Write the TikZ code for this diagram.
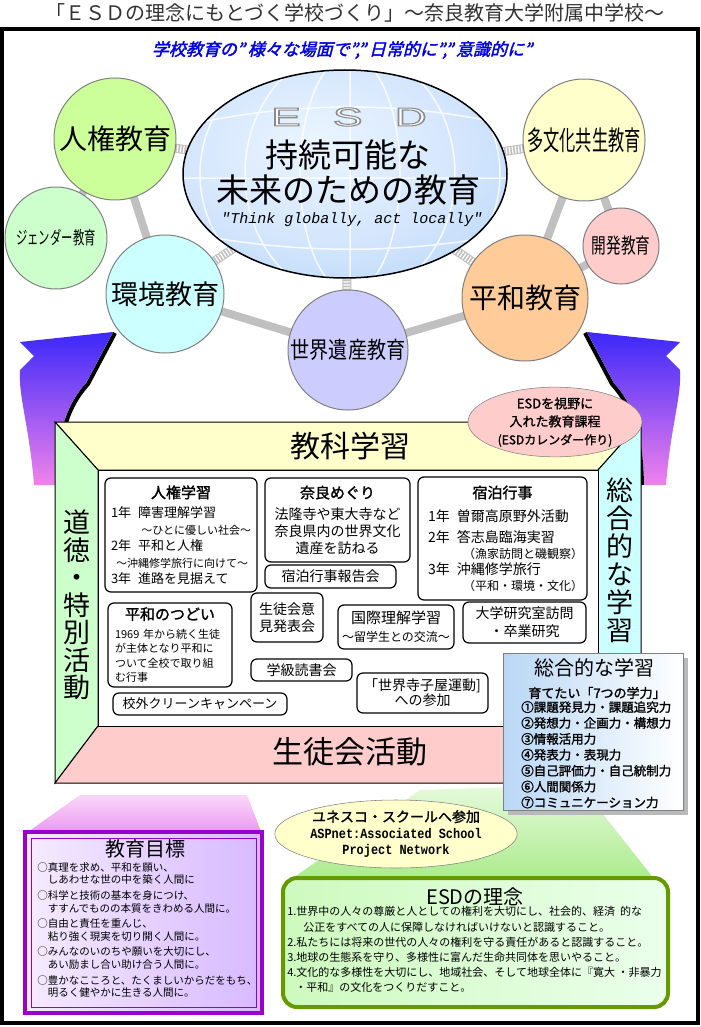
\documentclass[tikz,border=0pt]{standalone}
\usepackage{fontspec}
\usepackage{graphicx}
\setmainfont{Noto Sans CJK JP}
\newfontfamily\jpbold[FakeBold=1.5]{Noto Sans CJK JP}
\newfontfamily\jpslant[FakeSlant=0.25,FakeBold=2]{Noto Sans CJK JP}
\newfontfamily\monof{Liberation Mono}
\newfontfamily\esdfont[FakeBold=4]{Liberation Sans}
\usetikzlibrary{shapes.geometric,backgrounds}

\newlength\px
\setlength\px{0.75pt}
\newcommand\fs[2]{\fontsize{#1\px}{#2\px}\selectfont}
\newcommand\ctr[1]{\hskip0pt plus1fill{#1}\hskip0pt plus1fill\null}
\newcommand\rgt[1]{\hskip0pt plus1fill{#1}}
\newcommand\esdword{\scalebox{1.7}[1]{E\hspace{19\px}S\hspace{19\px}D}}

\definecolor{titleg}{RGB}{50,50,50}
\definecolor{headblue}{RGB}{0,0,230}
\definecolor{barg}{RGB}{192,192,192}
\definecolor{ballline}{RGB}{128,128,128}
\definecolor{cHR}{RGB}{204,255,153}
\definecolor{cGender}{RGB}{204,255,204}
\definecolor{cEnv}{RGB}{204,255,255}
\definecolor{cHeritage}{RGB}{204,204,255}
\definecolor{cMulti}{RGB}{255,255,204}
\definecolor{cDevel}{RGB}{255,204,204}
\definecolor{cPeace}{RGB}{255,204,153}
\definecolor{arrtop}{RGB}{60,40,250}
\definecolor{arrmid}{RGB}{150,70,240}
\definecolor{arrbot}{RGB}{240,130,235}
\definecolor{cTop}{RGB}{255,255,204}
\definecolor{cLeft}{RGB}{204,255,204}
\definecolor{cRight}{RGB}{204,255,255}
\definecolor{cBottom}{RGB}{255,204,204}
\definecolor{cCal}{RGB}{255,204,204}
\definecolor{moundtop}{RGB}{230,250,220}
\definecolor{moundbot}{RGB}{170,235,140}
\definecolor{rooftop}{RGB}{250,215,250}
\definecolor{roofbot}{RGB}{235,150,240}
\definecolor{mokuline}{RGB}{153,0,204}
\definecolor{mokuL}{RGB}{245,235,255}
\definecolor{mokuR}{RGB}{215,185,255}
\definecolor{rinenline}{RGB}{102,153,0}
\definecolor{rinenL}{RGB}{205,250,190}
\definecolor{rinenR}{RGB}{235,255,235}
\definecolor{cUnesco}{RGB}{255,255,204}
\definecolor{gkL}{RGB}{185,215,245}

\pgfdeclareradialshading{esdglobe}{\pgfpoint{-5bp}{8bp}}{rgb(0bp)=(0.92,0.96,1);rgb(22bp)=(0.83,0.9,0.99);rgb(40bp)=(0.7,0.83,0.97);rgb(48bp)=(0.56,0.74,0.95);rgb(60bp)=(0.56,0.74,0.95)}

\begin{document}
\begin{tikzpicture}[x=0.75pt,y=-0.75pt,
    ball/.style={circle,draw=ballline,line width=1\px,inner sep=0pt},
    bar/.style={draw=barg,line width=8\px},
    stub/.style={draw=barg,line width=9\px,postaction={draw=white,line width=7\px,dash pattern=on 0.9pt off 1.4pt}},
    box/.style={draw=black,line width=1.2\px,rounded corners=6\px,fill=white,inner sep=3\px,font=\fs{14}{17}},
    band/.style={draw=black,line width=1\px}]
  \useasboundingbox (0,0) rectangle (700,1027);
  \begin{scope}[on background layer]
    \fill[white] (0,0) rectangle (700,1027);
  \end{scope}

  \node[font=\fs{20}{20},text=titleg] (title) at (355,13) {「ＥＳＤの理念にもとづく学校づくり」～奈良教育大学附属中学校～};
  \draw[line width=4\px] (2,29) rectangle (698,1023);
  \node[font=\jpslant\fs{17}{17},text=headblue] (motto) at (342,50) {学校教育の”\,様々な場面で”,”\,日常的に”,”\,意識的に”};

  \foreach \s/\o in {1/0,-1/700}{
    \begin{scope}[shift={(\o,0)},xscale=\s]
      \shade[top color=arrtop,middle color=arrmid,bottom color=arrbot] (20,342) -- (113,332) -- (86,383) .. controls (66,405) and (57,432) .. (56,485) -- (34,485) .. controls (30,430) and (18,395) .. (20,370) -- (34,356) -- cycle;
      \draw[line width=4\px] (115,333) -- (88,384) .. controls (68,406) and (59,433) .. (58,485);
    \end{scope}}

  \node[ellipse,draw=black,line width=1.5\px,shade,shading=esdglobe,minimum width=324\px,minimum height=208\px] (esd) at (345,174) {};
  \begin{scope}
    \clip (esd.center) ellipse [x radius=161, y radius=103];
    \draw[white,line width=1.5\px,opacity=0.8] (350,60) -- (350,290)
      (350,174) ellipse [x radius=50, y radius=118]
      (350,174) ellipse [x radius=105, y radius=125]
      (350,174) ellipse [x radius=150, y radius=135]
      (175,128) .. controls (290,100) and (410,100) .. (520,128)
      (175,178) -- (520,178)
      (185,232) .. controls (290,255) and (410,255) .. (515,232);
  \end{scope}
  \node[font=\esdfont\fs{26}{26},text=gray!90] (esdmark) at (349,117) {\special{pdf:literal direct 1 g}\esdword};
  \node[font=\fs{33}{35},align=center] (esdtitle) at (348,172) {持続可能な\\未来のための教育};
  \node[font=\monof\itshape\fs{15}{15}] (esdmotto) at (352,220) {"Think globally, act locally"};

  \begin{scope}[every node/.style={ball}]
    \node[fill=cHR,minimum size=122\px,font=\fs{28}{28}] (hr) at (115,139) {人権教育};
    \node[fill=cGender,minimum size=102\px,font=\fs{18}{18}] (gender) at (56,238) {\scalebox{0.63}[1]{ジェンダー教育}};
    \node[fill=cEnv,minimum size=118\px,font=\fs{27}{27}] (env) at (165,294) {環境教育};
    \node[fill=cHeritage,minimum size=120\px,font=\fs{23}{23}] (heritage) at (348,350) {\scalebox{0.83}[1]{世界遺産教育}};
    \node[fill=cMulti,minimum size=122\px,font=\fs{27}{27}] (multi) at (584,140) {\scalebox{0.6}[1]{多文化共生教育}};
    \node[fill=cDevel,minimum size=76\px,font=\fs{21}{21}] (devel) at (621,246) {\scalebox{0.7}[1]{開発教育}};
    \node[fill=cPeace,minimum size=126\px,font=\fs{28}{28}] (peace) at (525,298) {平和教育};
  \end{scope}

  \begin{scope}[on background layer]
    \path[every edge/.style={bar}]
      (hr.center) edge (gender.center)
      (hr.center) edge (env.center)
      (env.center) edge (heritage.center)
      (heritage.center) edge (peace.center)
      (peace.center) edge (multi.center)
      (multi.center) edge (devel.center)
      (devel.center) edge (peace.center);
    \path[every edge/.style={stub}]
      (esd.center) edge (hr.center)
      (esd.center) edge (env.center)
      (esd.center) edge (heritage.center)
      (esd.center) edge (peace.center)
      (esd.center) edge (multi.center);
  \end{scope}

  \draw[band,fill=cTop] (55,422) -- (641,422) -- (598,470) -- (98,470) -- cycle;
  \draw[band,fill=cLeft] (55,422) -- (98,470) -- (98,726) -- (55,783) -- cycle;
  \draw[band,fill=cRight] (641,422) -- (641,783) -- (598,726) -- (598,470) -- cycle;
  \draw[band,fill=cBottom] (55,783) -- (98,726) -- (598,726) -- (641,783) -- cycle;
  \draw[band,fill=white] (98,470) rectangle (598,726);
  \node[font=\fs{30}{30}] (kyoka) at (350,446) {教科学習};
  \node[font=\fs{27}{27.5},align=center] (dotoku) at (77,605) {道\\徳\\・\\特\\別\\活\\動};
  \node[font=\fs{27}{28},align=center] (sogo) at (620,560) {総\\合\\的\\な\\学\\習};
  \node[font=\fs{31}{31}] (seito) at (350,752) {生徒会活動};

  \begin{scope}[every node/.style={box}]
    \node[minimum width=152\px,minimum height=114\px,text width=140\px,inner xsep=6\px,align=left,font=\fs{13}{16.5}] (jinken) at (181,535) {\ctr{\jpbold\fs{15}{17}人権学習}\\[3\px]1年\hspace{7\px}障害理解学習\\\rgt{\fs{11}{17}～ひとに優しい社会～}\\2年\hspace{7\px}平和と人権\\\hspace*{5\px}{\fs{11}{17}～沖縄修学旅行に向けて～}\\3年\hspace{7\px}進路を見据えて};
    \node[minimum width=145\px,minimum height=84\px,text width=137\px,align=center] (nara) at (337.5,520) {{\jpbold\fs{15}{17}奈良めぐり}\\[4\px]法隆寺や東大寺など\\奈良県内の世界文化\\遺産を訪ねる};
    \node[minimum width=131\px,minimum height=23\px] (hokoku) at (330.5,576.5) {宿泊行事報告会};
    \node[minimum width=169\px,minimum height=123\px,text width=157\px,inner xsep=6\px,align=left,font=\fs{14}{16}] (shukuhaku) at (502.5,538.5) {\ctr{\jpbold\fs{15}{16}宿泊行事}\\[7\px]\hspace*{4\px}1年\hspace{7\px}曽爾高原野外活動\\[5\px]\hspace*{4\px}2年\hspace{7\px}答志島臨海実習\\\hspace*{39\px}{\fs{12}{16}（漁家訪問と磯観察）}\\\hspace*{4\px}3年\hspace{7\px}沖縄修学旅行\\\hspace*{39\px}{\fs{12}{16}（平和・環境・文化）}};
    \node[minimum width=123\px,minimum height=41\px,align=center,font=\fs{14}{18}] (daigaku) at (524.5,622.5) {大学研究室訪問\\・卒業研究};
    \node[minimum width=116\px,minimum height=44\px,align=center] (kokusai) at (396,627) {{\fs{15}{15}国際理解学習}\\[1\px]{\fs{12}{14}～留学生との交流～}};
    \node[minimum width=72\px,minimum height=49\px,align=center] (iken) at (287,617.5) {生徒会意\\見発表会};
    \node[minimum width=124\px,minimum height=84\px,text width=110\px,inner xsep=7\px,align=left,font=\fs{11}{14.5}] (tsudoi) at (170,645) {\ctr{\jpbold\fs{15}{16}平和のつどい}\\[4\px]1969 年から続く生徒\\が主体となり平和に\\ついて全校で取り組\\む行事};
    \node[minimum width=101\px,minimum height=22\px] (dokusho) at (301.5,670) {学級読書会};
    \node[minimum width=131\px,minimum height=40\px,align=center,font=\fs{14}{15}] (terakoya) at (422.5,693) {「世界寺子屋運動]\\への参加};
    \node[minimum width=174\px,minimum height=22\px,font=\fs{13}{13}] (clean) at (200,704) {校外クリーンキャンペーン};
  \end{scope}

  \node[ellipse,draw=gray,fill=cCal,minimum width=174\px,minimum height=68\px,inner sep=0pt,align=center,font=\jpbold\fs{13}{18}] (esdcal) at (555,422) {ESDを視野に\\入れた教育課程\\{\fs{12}{18}(ESDカレンダー作り)}};

  \shade[top color=moundtop,bottom color=moundbot] (290,880) -- (420,790) -- (580,785) -- (655,880) -- cycle;
  \shade[top color=rooftop,bottom color=roofbot] (25,834) -- (80,795) -- (247,795) -- (262,834) -- cycle;

  \node[draw=mokuline,line width=4\px,left color=mokuL,right color=mokuR,minimum width=237\px,minimum height=181\px] (mokuhyo) at (143.5,922.5) {};
  \draw[mokuline,line width=1\px] (31,838) rectangle (256,1007);
  \node[font=\fs{20}{20}] (mokutitle) at (145,849) {教育目標};
  \node[anchor=north west,inner sep=0pt,align=left,font=\fs{10.5}{12.3}] (mokulist) at (37,862.5) {○真理を求め、平和を願い、\\\hspace*{1em}しあわせな世の中を築く人間に\\[3.5\px]○科学と技術の基本を身につけ、\\\hspace*{1em}すすんでものの本質をきわめる人間に。\\[3.5\px]○自由と責任を重んじ、\\\hspace*{1em}粘り強く現実を切り開く人間に。\\[3.5\px]○みんなのいのちや願いを大切にし、\\\hspace*{1em}あい励まし合い助け合う人間に。\\[3.5\px]○豊かなこころと、たくましいからだをもち、\\\hspace*{1em}明るく健やかに生きる人間に。};

  \node[ellipse,draw=gray,fill=cUnesco,minimum width=242\px,minimum height=68\px,inner sep=0pt,align=center,font=\fs{14}{16.5}] (unesco) at (396,834) {{\jpbold ユネスコ・スクールへ参加}\\{\monof\bfseries\scalebox{0.85}[1]{ASPnet:Associated School}}\\{\monof\bfseries\scalebox{0.85}[1]{Project Network}}};

  \node[draw=rinenline,line width=4\px,rounded corners=14\px,left color=rinenL,right color=rinenR,minimum width=385\px,minimum height=129\px] (rinen) at (475.5,942.5) {};
  \node[font=\fs{20}{20}] (rinentitle) at (475,897) {ESDの理念};
  \node[anchor=north west,inner sep=0pt,align=left,font=\fs{11}{15.2}] (rinenlist) at (287,906.3) {1.世界中の人々の尊厳と人としての権利を大切にし、社会的、経済\ \ 的な\\\hspace*{16\px}公正をすべての人に保障しなければいけないと認識すること。\\2.私たちには将来の世代の人々の権利を守る責任があると認識すること。\\3.地球の生態系を守り、多様性に富んだ生命共同体を思いやること。\\4.文化的な多様性を大切にし、地域社会、そして地球全体に『寛大\ ・非暴力\\\hspace*{8\px}・平和』の文化をつくりだすこと。};

  \fill[gray!55] (508,658) rectangle (688,815);
  \node[draw=gray,line width=1\px,left color=gkL,right color=white,minimum width=180\px,minimum height=157\px] (gakuryoku) at (593,731.5) {};
  \node[font=\fs{20}{20}] (gktitle) at (594,668) {総合的な学習};
  \node[font=\jpbold\fs{13}{13}] (gksub) at (597,693) {育てたい「7つの学力」};
  \node[anchor=north west,inner sep=0pt,align=left,font=\jpbold\fs{12.5}{15.9}] (gklist) at (521,701) {①課題発見力・課題追究力\\②発想力・企画力・構想力\\③情報活用力\\④発表力・表現力\\⑤自己評価力・自己統制力\\⑥人間関係力\\⑦コミュニケーション力};
\end{tikzpicture}
\end{document}
